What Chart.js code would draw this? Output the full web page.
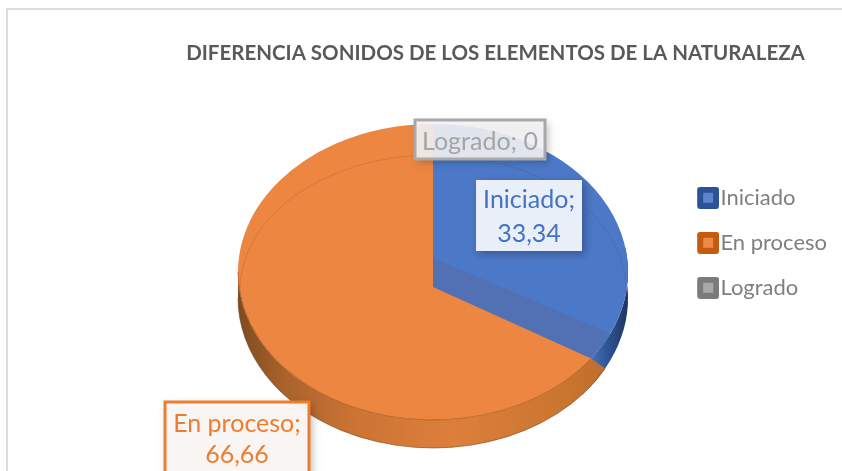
<!DOCTYPE html>
<html><head><meta charset="utf-8">
<script src="https://cdn.jsdelivr.net/npm/chart.js@4"></script>
<style>
html,body{margin:0;padding:0;background:#fff;overflow:hidden}
#frame{position:absolute;left:6px;top:8px;width:840px;height:470px;border:2px solid #dedede;box-sizing:border-box}
#c{position:absolute;left:0;top:0}
</style></head><body>
<div id="frame"></div>
<canvas id="c" width="842" height="471"></canvas>
<script>
const categories = ['Iniciado', 'En proceso', 'Logrado'];
const values = [33.34, 66.66, 0];
const faceColors = ['#4C78C8', '#EC8641', '#A5A5A5'];
const legendFill = ['#5A86D0', '#EE8A48', '#A9A9A9'];
const legendEdge = ['#2C5296', '#C55A11', '#7B7B7B'];
const titleText = 'DIFERENCIA SONIDOS DE LOS ELEMENTOS DE LA NATURALEZA';

const FACE = {cx: 433, cy: 272, rx: 195, ry: 148};
const BASE = {cy: 298, ry: 150};
const deg = Math.PI / 180;

const labelBoxes = [
  {x: 476, y: 180, w: 106, h: 71, lines: [200, 234], color: '#4472C4', border: null, fill: 'rgba(240,244,251,0.97)'},
  {x: 165, y: 402, w: 144, h: 80, lines: [424, 455], color: '#ED7D31', border: '#ED7D31', fill: 'rgba(251,247,244,0.97)'},
  {x: 415, y: 120, w: 130, h: 39, lines: [142], color: '#A5A5A5', border: '#A9A9A9', fill: 'rgba(244,244,246,0.9)'}
];

function fmt(v){ return String(v).replace('.', ','); }

function swatch(fill, edge){
  const s = document.createElement('canvas');
  s.width = 30; s.height = 22;
  const c = s.getContext('2d');
  c.fillStyle = edge;
  c.beginPath(); c.roundRect(8, 0, 22, 22, 3); c.fill();
  c.fillStyle = fill;
  c.fillRect(14, 6, 10, 10);
  return s;
}
const swatches = categories.map((t, i) => swatch(legendFill[i], legendEdge[i]));

const piePlugin = {
  id: 'pie3d',
  beforeDatasetsDraw(chart){
    const ctx = chart.ctx, arcs = chart.getDatasetMeta(0).data;
    const split = arcs[0].endAngle;
    // side wall, blue part
    let g = ctx.createLinearGradient(590, 0, 628, 0);
    g.addColorStop(0, '#4872BE'); g.addColorStop(0.45, '#2F5597'); g.addColorStop(1, '#1D3560');
    ctx.fillStyle = g;
    ctx.beginPath();
    ctx.ellipse(FACE.cx, BASE.cy, FACE.rx, BASE.ry, 0, split + 10*deg, -10*deg, true);
    ctx.ellipse(FACE.cx, FACE.cy, FACE.rx, FACE.ry, 0, -10*deg, split + 10*deg, false);
    ctx.closePath(); ctx.fill();
    // side wall, orange part
    g = ctx.createLinearGradient(FACE.cx - FACE.rx, 0, FACE.cx + FACE.rx, 0);
    g.addColorStop(0, '#7E4A20'); g.addColorStop(0.12, '#A9632C'); g.addColorStop(0.3, '#CB7434');
    g.addColorStop(0.55, '#DD7F3C'); g.addColorStop(0.85, '#C9752F'); g.addColorStop(1, '#B9682C');
    ctx.fillStyle = g;
    ctx.beginPath();
    ctx.ellipse(FACE.cx, BASE.cy, FACE.rx, BASE.ry, 0, split - 2*deg, 180*deg, false);
    ctx.ellipse(FACE.cx, FACE.cy, FACE.rx, FACE.ry, 0, 180*deg, split + 5.8*deg, true);
    ctx.closePath(); ctx.fill();
    ctx.strokeStyle = 'rgba(110,60,20,0.55)'; ctx.lineWidth = 1;
    ctx.beginPath();
    ctx.ellipse(FACE.cx, BASE.cy, FACE.rx, BASE.ry, 0, split - 2*deg, 180*deg, false);
    ctx.stroke();
    // top face through the library's own arcs, flattened
    const a = arcs[0];
    ctx.save();
    ctx.translate(FACE.cx, FACE.cy);
    ctx.scale(FACE.rx / a.outerRadius, FACE.ry / a.outerRadius);
    ctx.translate(-a.x, -a.y);
  },
  afterDatasetsDraw(chart){
    const ctx = chart.ctx, arcs = chart.getDatasetMeta(0).data;
    ctx.restore();
    const split = arcs[0].endAngle;
    const edge = t => [FACE.cx + FACE.rx * Math.cos(t), FACE.cy + FACE.ry * Math.sin(t)];
    // rim line under the face
    ctx.strokeStyle = 'rgba(170,90,30,0.75)'; ctx.lineWidth = 1;
    ctx.beginPath();
    ctx.ellipse(FACE.cx, FACE.cy, FACE.rx, FACE.ry, 0, split + 5.8*deg, 180*deg, false);
    ctx.stroke();
    // blue lip past the split line
    const e1 = edge(split - 5.5*deg);
    ctx.fillStyle = '#5270B4';
    ctx.beginPath();
    ctx.moveTo(FACE.cx, FACE.cy - 14);
    ctx.lineTo(e1[0], e1[1]);
    ctx.ellipse(FACE.cx, FACE.cy, FACE.rx, FACE.ry, 0, split - 5.5*deg, split + 5.8*deg, false);
    ctx.lineTo(FACE.cx, FACE.cy + 15);
    ctx.closePath(); ctx.fill();
    ctx.fillStyle = '#4C78C8';
    ctx.beginPath();
    ctx.moveTo(e1[0], e1[1]);
    ctx.ellipse(FACE.cx, FACE.cy, FACE.rx, FACE.ry, 0, split - 5.5*deg, split + 5.8*deg, false);
    ctx.closePath(); ctx.fill();
    // faint bevel inside the face
    ctx.save();
    ctx.beginPath();
    ctx.ellipse(FACE.cx, FACE.cy, FACE.rx, FACE.ry, 0, 0, 2*Math.PI);
    ctx.clip();
    ctx.strokeStyle = 'rgba(90,60,40,0.16)'; ctx.lineWidth = 1;
    ctx.beginPath();
    ctx.ellipse(FACE.cx, 290, 193, 135, 0, 0, 2*Math.PI);
    ctx.stroke();
    ctx.restore();
  },
  afterDraw(chart){
    const ctx = chart.ctx;
    categories.forEach((name, i) => {
      const b = labelBoxes[i];
      ctx.save();
      ctx.shadowColor = 'rgba(0,0,0,0.28)'; ctx.shadowBlur = 8;
      ctx.shadowOffsetX = 3; ctx.shadowOffsetY = 3;
      ctx.fillStyle = b.fill;
      ctx.fillRect(b.x, b.y, b.w, b.h);
      ctx.restore();
      if (b.border){
        ctx.strokeStyle = b.border; ctx.lineWidth = 3;
        ctx.strokeRect(b.x, b.y, b.w, b.h);
      }
      ctx.fillStyle = b.color;
      ctx.font = '25px Lato';
      ctx.textAlign = 'center'; ctx.textBaseline = 'middle';
      const cx = b.x + b.w / 2;
      if (b.lines.length === 1){
        ctx.fillText(name + '; ' + fmt(values[i]), cx, b.lines[0]);
      } else {
        ctx.fillText(name + ';', cx, b.lines[0]);
        ctx.fillText(fmt(values[i]), cx, b.lines[1]);
      }
    });
  }
};

new Chart(document.getElementById('c'), {
  type: 'pie',
  data: {labels: categories, datasets: [{data: values, backgroundColor: faceColors, borderWidth: 0}]},
  options: {
    responsive: false, animation: false,
    layout: {padding: {left: 154, right: 5, top: 0, bottom: 61}},
    plugins: {
      tooltip: {enabled: false},
      title: {display: true, text: titleText, color: '#595959',
        font: {family: 'Lato', size: 20.5, weight: 'bold'}, padding: {top: 41, bottom: 10}},
      legend: {position: 'right', align: 'center', fullSize: false,
        labels: {
          usePointStyle: true, boxWidth: 10.5, boxHeight: 10.5, padding: 23,
          color: '#7F7F7F', font: {family: 'Lato', size: 22},
          generateLabels(){
            return categories.map((t, i) => ({text: t, pointStyle: swatches[i], fillStyle: legendFill[i],
              strokeStyle: legendEdge[i], lineWidth: 0, index: i, hidden: false, fontColor: '#7F7F7F'}));
          }
        }
      }
    }
  },
  plugins: [piePlugin]
});
</script>
</body></html>
